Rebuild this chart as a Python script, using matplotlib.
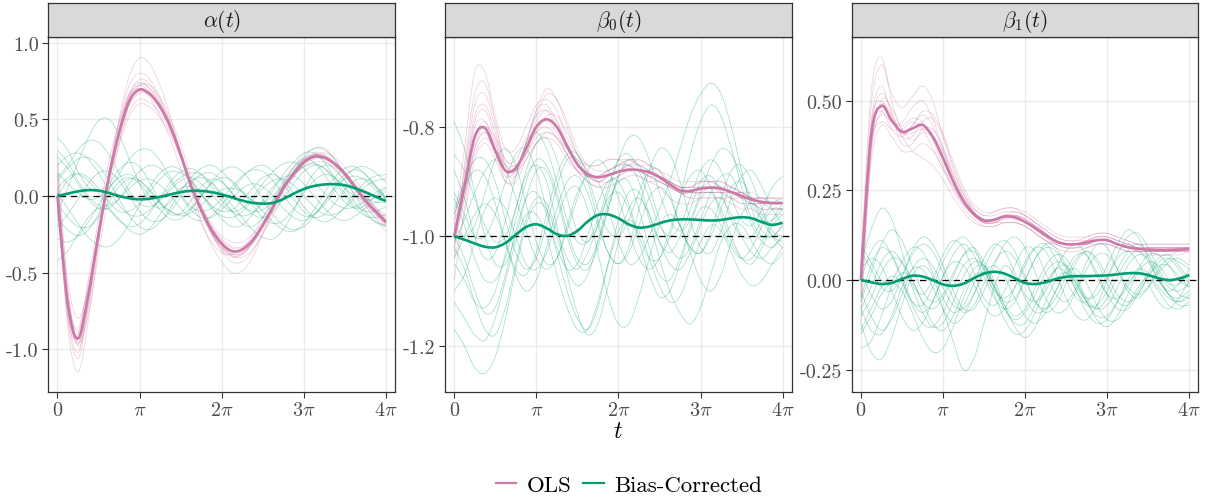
import numpy as np
import matplotlib.pyplot as plt
from matplotlib.lines import Line2D
from matplotlib.path import Path
from matplotlib.patches import PathPatch

plt.rcParams['mathtext.fontset'] = 'cm'
plt.rcParams['font.family'] = 'cmr10'
plt.rcParams['axes.unicode_minus'] = False

# evaluation grid: 0 .. 4*pi in steps of pi/8
t_steps = np.arange(33)
t = t_steps * np.pi / 8

# ---- alpha(t) -------------------------------------------------------------
alpha_ols_mean = [0.0, -0.70, -0.93, -0.65, -0.25, 0.12, 0.41, 0.62,
                  0.694, 0.665, 0.58, 0.45, 0.27, 0.07, -0.09, -0.22,
                  -0.31, -0.36, -0.35, -0.29, -0.19, -0.07, 0.05, 0.145,
                  0.22, 0.256, 0.25, 0.21, 0.145, 0.06, -0.03, -0.10,
                  -0.17]
alpha_bc_mean = [0.0, 0.015, 0.03, 0.038, 0.035, 0.02, 0.0, -0.015,
                 -0.022, -0.018, -0.005, 0.01, 0.025, 0.033, 0.033, 0.025,
                 0.01, -0.01, -0.03, -0.045, -0.05, -0.045, -0.02, 0.015,
                 0.045, 0.065, 0.075, 0.077, 0.07, 0.05, 0.025, -0.005,
                 -0.033]
alpha_ols_reps = [
    [0.05, -0.85, -1.15, -0.82, -0.32, 0.14, 0.50, 0.78, 0.90, 0.86, 0.72, 0.52, 0.28, 0.04, -0.16, -0.32,
     -0.43, -0.50, -0.49, -0.40, -0.25, -0.08, 0.07, 0.19, 0.27, 0.31, 0.30, 0.24, 0.15, 0.05, -0.06, -0.15, -0.23],
    [0.10, -0.55, -0.80, -0.60, -0.24, 0.09, 0.33, 0.52, 0.60, 0.58, 0.51, 0.40, 0.25, 0.08, -0.07, -0.18,
     -0.26, -0.30, -0.30, -0.25, -0.17, -0.06, 0.05, 0.13, 0.19, 0.22, 0.22, 0.19, 0.14, 0.07, -0.01, -0.07, -0.13],
    [-0.05, -0.62, -0.95, -0.78, -0.38, 0.02, 0.34, 0.60, 0.72, 0.72, 0.64, 0.51, 0.34, 0.13, -0.05, -0.20,
     -0.32, -0.39, -0.40, -0.35, -0.25, -0.13, 0.00, 0.12, 0.21, 0.27, 0.28, 0.25, 0.19, 0.11, 0.01, -0.08, -0.16],
    [0.20, -0.78, -0.90, -0.55, -0.15, 0.22, 0.48, 0.66, 0.70, 0.64, 0.52, 0.37, 0.18, -0.02, -0.18, -0.30,
     -0.37, -0.38, -0.34, -0.26, -0.14, -0.02, 0.10, 0.19, 0.25, 0.26, 0.23, 0.17, 0.10, 0.01, -0.07, -0.14, -0.20],
    [0.02, -0.75, -1.02, -0.70, -0.26, 0.15, 0.48, 0.72, 0.80, 0.76, 0.64, 0.48, 0.28, 0.07, -0.10, -0.25,
     -0.35, -0.40, -0.38, -0.31, -0.20, -0.07, 0.06, 0.16, 0.24, 0.28, 0.27, 0.22, 0.15, 0.06, -0.04, -0.12, -0.19],
    [-0.10, -0.70, -0.86, -0.58, -0.22, 0.10, 0.36, 0.55, 0.63, 0.61, 0.54, 0.42, 0.26, 0.07, -0.08, -0.20,
     -0.28, -0.33, -0.33, -0.28, -0.19, -0.08, 0.04, 0.13, 0.20, 0.24, 0.24, 0.20, 0.14, 0.06, -0.02, -0.09, -0.15],
    [0.15, -0.68, -0.97, -0.68, -0.27, 0.12, 0.43, 0.66, 0.76, 0.73, 0.62, 0.47, 0.29, 0.09, -0.09, -0.24,
     -0.36, -0.43, -0.43, -0.36, -0.24, -0.10, 0.04, 0.15, 0.23, 0.27, 0.26, 0.21, 0.13, 0.04, -0.05, -0.12, -0.18],
    [-0.02, -0.74, -0.92, -0.62, -0.23, 0.11, 0.39, 0.59, 0.67, 0.66, 0.60, 0.48, 0.30, 0.10, -0.07, -0.20,
     -0.29, -0.34, -0.34, -0.29, -0.20, -0.09, 0.03, 0.13, 0.21, 0.25, 0.25, 0.22, 0.16, 0.08, 0.00, -0.08, -0.14],
    [0.28, -0.60, -0.98, -0.74, -0.30, 0.10, 0.42, 0.64, 0.73, 0.70, 0.60, 0.46, 0.28, 0.08, -0.10, -0.24,
     -0.34, -0.39, -0.38, -0.31, -0.20, -0.07, 0.06, 0.16, 0.23, 0.27, 0.26, 0.21, 0.14, 0.05, -0.04, -0.11, -0.18],
    [-0.08, -0.80, -1.06, -0.72, -0.27, 0.13, 0.45, 0.67, 0.74, 0.70, 0.60, 0.46, 0.28, 0.08, -0.10, -0.24,
     -0.33, -0.38, -0.37, -0.31, -0.21, -0.09, 0.04, 0.15, 0.23, 0.27, 0.26, 0.22, 0.15, 0.06, -0.03, -0.11, -0.18],
    [0.05, -0.66, -0.88, -0.63, -0.25, 0.12, 0.40, 0.60, 0.68, 0.66, 0.58, 0.45, 0.27, 0.07, -0.09, -0.22,
     -0.31, -0.36, -0.35, -0.29, -0.19, -0.07, 0.05, 0.14, 0.21, 0.25, 0.25, 0.21, 0.14, 0.06, -0.03, -0.10, -0.16],
    [0.00, -0.72, -0.96, -0.67, -0.26, 0.13, 0.43, 0.65, 0.72, 0.68, 0.59, 0.45, 0.26, 0.06, -0.11, -0.24,
     -0.33, -0.38, -0.37, -0.30, -0.19, -0.06, 0.06, 0.15, 0.22, 0.26, 0.25, 0.20, 0.13, 0.05, -0.04, -0.11, -0.17],
]
alpha_bc_reps = [
    [0.38, 0.30, 0.16, 0.06, 0.03, 0.08, 0.17, 0.22, 0.19, 0.09, -0.04, -0.12, -0.11, -0.03, 0.06, 0.11,
     0.09, 0.02, -0.06, -0.12, -0.14, -0.10, -0.02, 0.08, 0.16, 0.20, 0.18, 0.12, 0.05, 0.00, -0.03, -0.01, 0.03],
    [-0.10, 0.05, 0.22, 0.38, 0.49, 0.50, 0.40, 0.24, 0.08, -0.04, -0.08, -0.04, 0.04, 0.10, 0.12, 0.08,
     0.00, -0.10, -0.18, -0.20, -0.14, -0.04, 0.08, 0.18, 0.24, 0.22, 0.14, 0.04, -0.04, -0.08, -0.06, 0.00, 0.05],
    [-0.42, -0.36, -0.25, -0.14, -0.08, -0.09, -0.15, -0.22, -0.25, -0.21, -0.12, -0.02, 0.05, 0.06, 0.01, -0.07,
     -0.15, -0.20, -0.19, -0.12, -0.03, 0.06, 0.12, 0.13, 0.08, 0.00, -0.08, -0.14, -0.16, -0.13, -0.08, -0.04, -0.02],
    [0.10, 0.18, 0.24, 0.25, 0.20, 0.10, -0.02, -0.13, -0.20, -0.22, -0.17, -0.08, 0.03, 0.12, 0.18, 0.20,
     0.16, 0.09, 0.02, -0.03, -0.04, 0.00, 0.07, 0.14, 0.19, 0.21, 0.18, 0.10, 0.00, -0.08, -0.13, -0.14, -0.12],
    [0.02, -0.08, -0.18, -0.27, -0.32, -0.33, -0.28, -0.18, -0.06, 0.06, 0.15, 0.19, 0.17, 0.10, 0.01, -0.08,
     -0.13, -0.14, -0.10, -0.03, 0.05, 0.10, 0.11, 0.07, 0.00, -0.07, -0.12, -0.12, -0.08, -0.01, 0.06, 0.10, 0.11],
    [0.20, 0.26, 0.28, 0.24, 0.15, 0.04, -0.06, -0.12, -0.13, -0.09, -0.02, 0.06, 0.12, 0.15, 0.14, 0.09,
     0.02, -0.06, -0.14, -0.22, -0.27, -0.28, -0.22, -0.10, 0.04, 0.15, 0.20, 0.18, 0.10, 0.00, -0.10, -0.17, -0.20],
    [-0.20, -0.12, -0.02, 0.08, 0.15, 0.16, 0.10, 0.00, -0.10, -0.16, -0.16, -0.10, -0.01, 0.08, 0.14, 0.15,
     0.10, 0.02, -0.06, -0.10, -0.09, -0.03, 0.06, 0.16, 0.25, 0.31, 0.31, 0.24, 0.14, 0.05, -0.01, -0.04, -0.04],
    [0.05, 0.12, 0.15, 0.12, 0.05, -0.04, -0.10, -0.10, -0.05, 0.03, 0.11, 0.16, 0.15, 0.10, 0.02, -0.06,
     -0.10, -0.09, -0.03, 0.05, 0.12, 0.14, 0.10, 0.02, -0.07, -0.14, -0.17, -0.14, -0.07, 0.02, 0.09, 0.13, 0.14],
    [-0.28, -0.30, -0.26, -0.17, -0.06, 0.05, 0.12, 0.14, 0.10, 0.03, -0.05, -0.10, -0.12, -0.08, 0.00, 0.09,
     0.16, 0.19, 0.16, 0.08, -0.02, -0.12, -0.19, -0.22, -0.20, -0.13, -0.04, 0.05, 0.11, 0.13, 0.10, 0.04, -0.02],
    [0.15, 0.08, 0.02, -0.02, -0.01, 0.05, 0.14, 0.24, 0.30, 0.30, 0.23, 0.12, 0.01, -0.07, -0.10, -0.08,
     -0.02, 0.06, 0.13, 0.17, 0.16, 0.10, 0.01, -0.08, -0.13, -0.12, -0.06, 0.03, 0.12, 0.18, 0.19, 0.15, 0.09],
    [-0.05, -0.14, -0.20, -0.20, -0.14, -0.04, 0.06, 0.11, 0.10, 0.04, -0.04, -0.10, -0.13, -0.11, -0.06, 0.00,
     0.04, 0.05, 0.03, -0.03, -0.10, -0.17, -0.22, -0.23, -0.18, -0.09, 0.02, 0.12, 0.18, 0.19, 0.14, 0.06, -0.02],
    [0.30, 0.22, 0.10, 0.00, -0.06, -0.06, -0.02, 0.05, 0.10, 0.11, 0.07, 0.00, -0.08, -0.14, -0.16, -0.13,
     -0.06, 0.03, 0.12, 0.18, 0.20, 0.16, 0.08, -0.02, -0.10, -0.14, -0.12, -0.05, 0.04, 0.10, 0.11, 0.06, -0.01],
    [0.12, 0.20, 0.30, 0.36, 0.35, 0.27, 0.15, 0.03, -0.05, -0.07, -0.03, 0.04, 0.10, 0.12, 0.08, 0.01,
     -0.06, -0.10, -0.08, -0.01, 0.08, 0.16, 0.21, 0.22, 0.18, 0.10, 0.02, -0.05, -0.08, -0.07, -0.03, 0.02, 0.06],
    [-0.15, -0.22, -0.26, -0.22, -0.12, 0.00, 0.09, 0.12, 0.08, 0.00, -0.09, -0.15, -0.15, -0.09, 0.00, 0.08,
     0.12, 0.10, 0.03, -0.06, -0.14, -0.18, -0.16, -0.08, 0.02, 0.10, 0.14, 0.12, 0.05, -0.04, -0.12, -0.17, -0.19],
    [0.00, 0.10, 0.14, 0.10, 0.02, -0.08, -0.16, -0.20, -0.18, -0.11, -0.01, 0.09, 0.16, 0.18, 0.14, 0.06,
     -0.03, -0.10, -0.13, -0.11, -0.05, 0.04, 0.14, 0.22, 0.28, 0.28, 0.22, 0.12, 0.02, -0.06, -0.10, -0.10, -0.07],
    [0.25, 0.18, 0.08, -0.02, -0.08, -0.08, -0.02, 0.08, 0.16, 0.20, 0.18, 0.10, 0.00, -0.09, -0.14, -0.14,
     -0.09, -0.02, 0.05, 0.08, 0.06, 0.00, -0.08, -0.14, -0.16, -0.12, -0.04, 0.06, 0.14, 0.17, 0.14, 0.07, -0.01],
]

# ---- beta_0(t) ------------------------------------------------------------
beta0_ols_mean = [-1.0, -0.91, -0.818, -0.802, -0.843, -0.88, -0.875, -0.84,
                  -0.80, -0.786, -0.80, -0.835, -0.868, -0.886, -0.892, -0.888,
                  -0.882, -0.878, -0.879, -0.883, -0.892, -0.905, -0.916, -0.917,
                  -0.913, -0.911, -0.913, -0.919, -0.926, -0.933, -0.937, -0.939,
                  -0.939]
beta0_bc_mean = [-1.0, -1.006, -1.013, -1.019, -1.02, -1.012, -0.997, -0.983,
                 -0.978, -0.985, -0.996, -0.999, -0.99, -0.973, -0.961, -0.96,
                 -0.967, -0.978, -0.984, -0.982, -0.976, -0.971, -0.969, -0.969,
                 -0.970, -0.971, -0.970, -0.967, -0.965, -0.967, -0.974, -0.979,
                 -0.975]
beta0_ols_reps = [
    [-0.98, -0.84, -0.70, -0.70, -0.78, -0.84, -0.84, -0.80, -0.76, -0.75, -0.77, -0.82, -0.85, -0.87, -0.87, -0.86,
     -0.86, -0.86, -0.87, -0.87, -0.88, -0.89, -0.90, -0.90, -0.90, -0.90, -0.90, -0.91, -0.92, -0.92, -0.93, -0.93, -0.93],
    [-1.04, -0.96, -0.86, -0.83, -0.86, -0.90, -0.90, -0.86, -0.83, -0.81, -0.82, -0.85, -0.88, -0.90, -0.91, -0.91,
     -0.90, -0.89, -0.89, -0.90, -0.91, -0.93, -0.94, -0.94, -0.93, -0.93, -0.93, -0.94, -0.95, -0.95, -0.96, -0.96, -0.96],
    [-1.00, -0.89, -0.78, -0.76, -0.81, -0.87, -0.88, -0.83, -0.77, -0.76, -0.79, -0.83, -0.86, -0.87, -0.87, -0.86,
     -0.86, -0.87, -0.88, -0.89, -0.89, -0.90, -0.91, -0.91, -0.91, -0.90, -0.90, -0.91, -0.92, -0.93, -0.93, -0.94, -0.94],
    [-0.97, -0.92, -0.83, -0.80, -0.82, -0.86, -0.87, -0.85, -0.81, -0.78, -0.78, -0.81, -0.85, -0.88, -0.90, -0.89,
     -0.88, -0.87, -0.86, -0.87, -0.88, -0.90, -0.91, -0.92, -0.92, -0.91, -0.91, -0.91, -0.92, -0.93, -0.94, -0.94, -0.94],
    [-1.08, -0.95, -0.84, -0.81, -0.85, -0.89, -0.88, -0.84, -0.81, -0.80, -0.82, -0.85, -0.88, -0.89, -0.90, -0.89,
     -0.88, -0.88, -0.89, -0.90, -0.90, -0.91, -0.92, -0.92, -0.92, -0.92, -0.92, -0.93, -0.93, -0.94, -0.94, -0.95, -0.95],
    [-0.99, -0.88, -0.76, -0.74, -0.80, -0.86, -0.86, -0.82, -0.78, -0.74, -0.75, -0.79, -0.84, -0.87, -0.88, -0.88,
     -0.87, -0.86, -0.86, -0.87, -0.89, -0.90, -0.91, -0.91, -0.90, -0.90, -0.91, -0.92, -0.93, -0.93, -0.93, -0.93, -0.94],
    [-1.02, -0.93, -0.85, -0.82, -0.84, -0.87, -0.87, -0.85, -0.82, -0.81, -0.82, -0.84, -0.87, -0.89, -0.89, -0.88,
     -0.87, -0.87, -0.88, -0.89, -0.90, -0.91, -0.92, -0.93, -0.93, -0.93, -0.93, -0.93, -0.94, -0.94, -0.95, -0.95, -0.95],
    [-1.00, -0.90, -0.80, -0.79, -0.84, -0.90, -0.89, -0.83, -0.78, -0.77, -0.80, -0.84, -0.87, -0.89, -0.90, -0.90,
     -0.89, -0.88, -0.88, -0.88, -0.89, -0.90, -0.92, -0.92, -0.91, -0.91, -0.92, -0.92, -0.93, -0.93, -0.94, -0.94, -0.94],
    [-1.03, -0.87, -0.74, -0.72, -0.79, -0.87, -0.88, -0.84, -0.79, -0.77, -0.79, -0.83, -0.87, -0.89, -0.89, -0.88,
     -0.87, -0.86, -0.87, -0.88, -0.89, -0.90, -0.91, -0.91, -0.91, -0.91, -0.91, -0.92, -0.92, -0.93, -0.93, -0.94, -0.94],
    [-0.96, -0.90, -0.82, -0.79, -0.83, -0.88, -0.88, -0.83, -0.77, -0.73, -0.75, -0.80, -0.85, -0.88, -0.89, -0.88,
     -0.87, -0.87, -0.87, -0.88, -0.89, -0.90, -0.91, -0.91, -0.90, -0.90, -0.91, -0.92, -0.92, -0.93, -0.93, -0.93, -0.93],
    [-1.01, -0.93, -0.84, -0.81, -0.83, -0.87, -0.88, -0.86, -0.83, -0.82, -0.83, -0.86, -0.88, -0.89, -0.90, -0.89,
     -0.88, -0.88, -0.88, -0.89, -0.90, -0.91, -0.92, -0.92, -0.92, -0.92, -0.92, -0.92, -0.93, -0.94, -0.94, -0.94, -0.94],
    [-1.00, -0.90, -0.79, -0.77, -0.82, -0.88, -0.89, -0.85, -0.80, -0.79, -0.81, -0.85, -0.88, -0.90, -0.91, -0.90,
     -0.89, -0.88, -0.88, -0.89, -0.90, -0.91, -0.92, -0.93, -0.92, -0.92, -0.92, -0.93, -0.94, -0.94, -0.95, -0.95, -0.95],
]
beta0_bc_reps = [
    [-0.79, -0.84, -0.92, -1.00, -1.05, -1.05, -1.00, -0.93, -0.88, -0.88, -0.93, -1.00, -1.05, -1.06, -1.02, -0.95,
     -0.89, -0.87, -0.90, -0.96, -1.01, -1.03, -1.00, -0.95, -0.90, -0.89, -0.92, -0.97, -1.00, -1.00, -0.97, -0.94, -0.93],
    [-1.17, -1.20, -1.24, -1.25, -1.22, -1.15, -1.06, -0.98, -0.94, -0.95, -1.00, -1.06, -1.09, -1.07, -1.01, -0.94,
     -0.90, -0.90, -0.95, -1.02, -1.07, -1.08, -1.04, -0.98, -0.93, -0.92, -0.95, -1.00, -1.04, -1.05, -1.02, -0.98, -0.96],
    [-0.95, -0.90, -0.86, -0.86, -0.90, -0.97, -1.03, -1.06, -1.04, -0.98, -0.91, -0.86, -0.86, -0.90, -0.97, -1.03,
     -1.05, -1.02, -0.95, -0.88, -0.84, -0.85, -0.90, -0.97, -1.02, -1.03, -0.99, -0.93, -0.89, -0.88, -0.91, -0.95, -0.98],
    [-1.05, -1.08, -1.12, -1.13, -1.10, -1.03, -0.95, -0.89, -0.87, -0.90, -0.98, -1.07, -1.14, -1.18, -1.16, -1.09,
     -1.01, -0.95, -0.93, -0.96, -1.01, -1.05, -1.06, -1.03, -0.98, -0.94, -0.93, -0.96, -1.00, -1.03, -1.04, -1.02, -1.00],
    [-0.98, -1.00, -0.98, -0.92, -0.86, -0.84, -0.87, -0.94, -1.01, -1.05, -1.04, -0.98, -0.92, -0.89, -0.90, -0.95,
     -1.01, -1.05, -1.04, -1.00, -0.95, -0.90, -0.84, -0.78, -0.74, -0.72, -0.74, -0.80, -0.88, -0.95, -0.99, -1.00, -0.98],
    [-1.02, -1.06, -1.12, -1.17, -1.18, -1.13, -1.05, -0.97, -0.93, -0.94, -0.99, -1.04, -1.06, -1.03, -0.98, -0.93,
     -0.92, -0.95, -1.01, -1.07, -1.11, -1.10, -1.05, -0.99, -0.95, -0.95, -0.98, -1.02, -1.04, -1.02, -0.98, -0.95, -0.95],
    [-0.92, -0.96, -1.00, -1.00, -0.96, -0.90, -0.85, -0.84, -0.88, -0.95, -1.02, -1.06, -1.05, -1.00, -0.94, -0.90,
     -0.90, -0.94, -1.00, -1.04, -1.04, -1.00, -0.93, -0.85, -0.79, -0.76, -0.78, -0.84, -0.91, -0.97, -1.00, -1.00, -0.98],
    [-1.10, -1.07, -1.01, -0.95, -0.93, -0.95, -1.00, -1.05, -1.06, -1.03, -0.97, -0.92, -0.91, -0.95, -1.03, -1.11,
     -1.16, -1.16, -1.11, -1.04, -0.98, -0.96, -0.98, -1.03, -1.08, -1.10, -1.07, -1.01, -0.96, -0.94, -0.96, -1.00, -1.02],
    [-0.88, -0.93, -1.00, -1.04, -1.03, -0.97, -0.89, -0.83, -0.81, -0.84, -0.90, -0.97, -1.01, -1.01, -0.97, -0.91,
     -0.86, -0.85, -0.88, -0.93, -0.98, -1.00, -0.98, -0.93, -0.88, -0.86, -0.88, -0.93, -0.97, -0.98, -0.95, -0.91, -0.89],
    [-1.00, -1.04, -1.10, -1.14, -1.13, -1.07, -0.99, -0.93, -0.92, -0.96, -1.03, -1.10, -1.15, -1.17, -1.13, -1.05,
     -0.97, -0.92, -0.92, -0.97, -1.04, -1.10, -1.14, -1.16, -1.13, -1.07, -1.01, -0.98, -0.98, -1.01, -1.04, -1.05, -1.03],
    [-0.96, -0.91, -0.88, -0.89, -0.94, -1.01, -1.06, -1.07, -1.03, -0.96, -0.89, -0.85, -0.85, -0.89, -0.95, -0.99,
     -1.00, -0.97, -0.92, -0.88, -0.88, -0.92, -0.98, -1.02, -1.03, -0.99, -0.93, -0.88, -0.87, -0.90, -0.95, -0.99, -1.00],
    [-1.04, -1.00, -0.96, -0.94, -0.96, -1.01, -1.07, -1.10, -1.08, -1.02, -0.95, -0.90, -0.89, -0.92, -0.98, -1.03,
     -1.05, -1.03, -0.98, -0.93, -0.91, -0.93, -0.98, -1.02, -1.03, -1.00, -0.95, -0.91, -0.90, -0.93, -0.97, -1.00, -1.01],
    [-0.85, -0.88, -0.93, -0.98, -1.01, -1.00, -0.95, -0.88, -0.83, -0.82, -0.86, -0.93, -0.99, -1.01, -0.98, -0.92,
     -0.86, -0.82, -0.82, -0.86, -0.92, -0.97, -0.99, -0.97, -0.92, -0.87, -0.84, -0.85, -0.89, -0.94, -0.97, -0.97, -0.95],
    [-1.12, -1.15, -1.18, -1.19, -1.15, -1.08, -1.01, -0.96, -0.96, -1.00, -1.07, -1.13, -1.17, -1.17, -1.12, -1.05,
     -0.99, -0.97, -0.99, -1.04, -1.09, -1.12, -1.11, -1.06, -1.01, -0.98, -0.99, -1.03, -1.07, -1.09, -1.08, -1.05, -1.02],
    [-0.93, -0.98, -1.04, -1.08, -1.08, -1.04, -0.97, -0.90, -0.86, -0.87, -0.92, -0.99, -1.04, -1.05, -1.01, -0.95,
     -0.89, -0.86, -0.87, -0.91, -0.97, -1.02, -1.04, -1.02, -0.97, -0.92, -0.89, -0.89, -0.93, -0.98, -1.01, -1.02, -1.00],
    [-1.01, -0.97, -0.92, -0.88, -0.86, -0.88, -0.93, -0.99, -1.04, -1.06, -1.04, -0.99, -0.93, -0.88, -0.86, -0.88,
     -0.93, -0.99, -1.04, -1.06, -1.04, -0.99, -0.93, -0.89, -0.88, -0.91, -0.96, -1.01, -1.04, -1.04, -1.01, -0.97, -0.94],
]

# ---- beta_1(t) ------------------------------------------------------------
beta1_ols_mean = [0.0, 0.40, 0.485, 0.445, 0.413, 0.422, 0.432, 0.40,
                  0.34, 0.275, 0.22, 0.185, 0.166, 0.168, 0.177, 0.175,
                  0.162, 0.145, 0.125, 0.108, 0.10, 0.100, 0.105, 0.111,
                  0.111, 0.10, 0.092, 0.087, 0.085, 0.084, 0.084, 0.085,
                  0.086]
beta1_bc_mean = [0.0, -0.006, -0.011, -0.008, 0.003, 0.012, 0.010, 0.0,
                 -0.012, -0.016, -0.010, 0.005, 0.018, 0.023, 0.018, 0.005,
                 -0.008, -0.011, -0.006, 0.003, 0.009, 0.011, 0.011, 0.012,
                 0.013, 0.016, 0.019, 0.019, 0.014, 0.005, 0.0, 0.004,
                 0.014]
beta1_ols_reps = [
    [0.02, 0.48, 0.60, 0.52, 0.48, 0.51, 0.54, 0.50, 0.40, 0.31, 0.24, 0.20, 0.18, 0.18, 0.19, 0.19,
     0.18, 0.16, 0.14, 0.12, 0.11, 0.11, 0.11, 0.12, 0.12, 0.11, 0.10, 0.10, 0.09, 0.09, 0.09, 0.09, 0.09],
    [-0.05, 0.33, 0.43, 0.40, 0.36, 0.36, 0.38, 0.36, 0.31, 0.25, 0.20, 0.17, 0.15, 0.15, 0.16, 0.16,
     0.15, 0.13, 0.11, 0.10, 0.09, 0.09, 0.09, 0.10, 0.10, 0.09, 0.08, 0.08, 0.08, 0.07, 0.07, 0.08, 0.08],
    [0.00, 0.42, 0.52, 0.47, 0.40, 0.40, 0.44, 0.45, 0.40, 0.32, 0.25, 0.20, 0.18, 0.19, 0.20, 0.20,
     0.18, 0.16, 0.14, 0.12, 0.11, 0.11, 0.12, 0.13, 0.13, 0.12, 0.11, 0.10, 0.10, 0.10, 0.10, 0.10, 0.10],
    [0.04, 0.38, 0.46, 0.44, 0.43, 0.45, 0.44, 0.39, 0.32, 0.26, 0.21, 0.18, 0.16, 0.16, 0.17, 0.17,
     0.16, 0.14, 0.12, 0.10, 0.09, 0.09, 0.10, 0.11, 0.11, 0.10, 0.09, 0.08, 0.08, 0.08, 0.08, 0.08, 0.08],
    [-0.12, 0.36, 0.50, 0.48, 0.42, 0.39, 0.41, 0.40, 0.36, 0.29, 0.23, 0.19, 0.17, 0.17, 0.18, 0.18,
     0.17, 0.15, 0.13, 0.11, 0.10, 0.10, 0.10, 0.11, 0.11, 0.10, 0.09, 0.09, 0.08, 0.08, 0.08, 0.09, 0.09],
    [0.03, 0.44, 0.54, 0.46, 0.38, 0.38, 0.42, 0.42, 0.37, 0.30, 0.24, 0.19, 0.16, 0.16, 0.18, 0.19,
     0.18, 0.16, 0.13, 0.11, 0.10, 0.10, 0.11, 0.12, 0.12, 0.11, 0.10, 0.09, 0.09, 0.09, 0.09, 0.09, 0.09],
    [0.00, 0.40, 0.47, 0.42, 0.40, 0.43, 0.46, 0.43, 0.36, 0.28, 0.22, 0.18, 0.16, 0.16, 0.17, 0.18,
     0.17, 0.15, 0.13, 0.11, 0.10, 0.10, 0.10, 0.11, 0.11, 0.10, 0.10, 0.09, 0.09, 0.09, 0.09, 0.09, 0.09],
    [-0.03, 0.37, 0.44, 0.42, 0.42, 0.44, 0.42, 0.37, 0.31, 0.26, 0.21, 0.18, 0.16, 0.16, 0.16, 0.16,
     0.15, 0.13, 0.11, 0.10, 0.09, 0.09, 0.10, 0.10, 0.10, 0.09, 0.09, 0.08, 0.08, 0.08, 0.08, 0.08, 0.08],
    [0.05, 0.52, 0.62, 0.50, 0.42, 0.43, 0.47, 0.46, 0.41, 0.33, 0.26, 0.21, 0.19, 0.19, 0.20, 0.20,
     0.19, 0.17, 0.15, 0.13, 0.12, 0.12, 0.12, 0.13, 0.13, 0.12, 0.11, 0.10, 0.10, 0.10, 0.10, 0.10, 0.10],
    [-0.08, 0.35, 0.47, 0.45, 0.40, 0.36, 0.34, 0.32, 0.28, 0.23, 0.19, 0.16, 0.15, 0.15, 0.16, 0.16,
     0.15, 0.13, 0.11, 0.09, 0.08, 0.08, 0.09, 0.10, 0.10, 0.09, 0.08, 0.08, 0.07, 0.07, 0.07, 0.07, 0.08],
    [0.01, 0.43, 0.50, 0.44, 0.44, 0.48, 0.50, 0.45, 0.37, 0.29, 0.23, 0.19, 0.17, 0.17, 0.18, 0.18,
     0.17, 0.15, 0.13, 0.11, 0.10, 0.10, 0.11, 0.12, 0.12, 0.11, 0.10, 0.09, 0.09, 0.09, 0.09, 0.09, 0.09],
    [-0.02, 0.39, 0.49, 0.46, 0.41, 0.41, 0.42, 0.40, 0.35, 0.28, 0.22, 0.18, 0.16, 0.17, 0.18, 0.17,
     0.16, 0.14, 0.12, 0.11, 0.10, 0.10, 0.10, 0.11, 0.11, 0.10, 0.09, 0.09, 0.08, 0.08, 0.08, 0.08, 0.09],
]
beta1_bc_reps = [
    [0.05, 0.14, 0.20, 0.17, 0.08, -0.01, -0.04, 0.00, 0.07, 0.11, 0.09, 0.02, -0.05, -0.07, -0.03, 0.04,
     0.09, 0.08, 0.02, -0.04, -0.06, -0.02, 0.05, 0.10, 0.09, 0.03, -0.03, -0.05, -0.02, 0.03, 0.06, 0.05, 0.03],
    [-0.19, -0.17, -0.10, -0.02, 0.02, 0.00, -0.06, -0.12, -0.14, -0.10, -0.03, 0.03, 0.04, 0.00, -0.07, -0.13,
     -0.16, -0.13, -0.06, 0.00, 0.02, -0.01, -0.06, -0.10, -0.10, -0.06, -0.01, 0.02, 0.01, -0.03, -0.07, -0.08, -0.06],
    [-0.05, 0.04, 0.09, 0.07, 0.01, -0.06, -0.09, -0.06, 0.01, 0.07, 0.10, 0.07, 0.01, -0.05, -0.08, -0.06,
     0.00, 0.06, 0.09, 0.08, 0.03, -0.03, -0.07, -0.07, -0.03, 0.03, 0.08, 0.10, 0.07, 0.02, -0.02, -0.03, -0.01],
    [-0.12, -0.20, -0.22, -0.16, -0.07, 0.01, 0.04, 0.01, -0.08, -0.17, -0.25, -0.22, -0.12, -0.02, 0.04, 0.01,
     -0.05, -0.09, -0.08, -0.03, 0.03, 0.07, 0.07, 0.02, -0.04, -0.08, -0.08, -0.04, 0.01, 0.04, 0.04, 0.01, -0.02],
    [0.02, -0.04, -0.08, -0.06, 0.01, 0.08, 0.12, 0.10, 0.04, -0.03, -0.08, -0.08, -0.03, 0.04, 0.10, 0.12,
     0.09, 0.02, -0.05, -0.09, -0.08, -0.03, 0.03, 0.07, 0.07, 0.03, -0.02, -0.04, -0.02, 0.02, 0.05, 0.06, 0.04],
    [-0.08, -0.02, 0.05, 0.08, 0.05, -0.02, -0.09, -0.13, -0.12, -0.06, 0.01, 0.05, 0.04, -0.01, -0.07, -0.10,
     -0.08, -0.02, 0.04, 0.07, 0.06, 0.01, -0.05, -0.08, -0.07, -0.02, 0.04, 0.07, 0.06, 0.01, -0.04, -0.06, -0.05],
    [0.00, 0.08, 0.11, 0.07, 0.00, -0.06, -0.07, -0.02, 0.05, 0.10, 0.12, 0.09, 0.03, -0.03, -0.05, -0.02,
     0.04, 0.09, 0.10, 0.06, 0.00, -0.05, -0.06, -0.02, 0.04, 0.10, 0.14, 0.12, 0.06, 0.00, -0.03, -0.01, 0.03],
    [-0.15, -0.10, -0.04, -0.01, -0.03, -0.09, -0.16, -0.20, -0.19, -0.13, -0.05, 0.01, 0.02, -0.02, -0.08, -0.12,
     -0.12, -0.07, -0.01, 0.03, 0.02, -0.03, -0.09, -0.12, -0.11, -0.06, 0.00, 0.03, 0.02, -0.02, -0.05, -0.06, -0.04],
    [0.08, 0.03, -0.02, -0.03, 0.01, 0.07, 0.10, 0.08, 0.02, -0.05, -0.09, -0.07, -0.01, 0.05, 0.08, 0.06,
     0.00, -0.06, -0.08, -0.05, 0.01, 0.06, 0.08, 0.05, -0.01, -0.06, -0.07, -0.03, 0.02, 0.06, 0.07, 0.04, 0.00],
    [-0.03, -0.10, -0.14, -0.11, -0.04, 0.03, 0.06, 0.04, -0.02, -0.07, -0.08, -0.04, 0.03, 0.09, 0.11, 0.08,
     0.01, -0.06, -0.09, -0.07, -0.01, 0.05, 0.08, 0.06, 0.01, -0.04, -0.06, -0.04, 0.01, 0.05, 0.06, 0.03, -0.01],
    [-0.10, -0.05, 0.02, 0.06, 0.05, 0.00, -0.06, -0.08, -0.05, 0.01, 0.07, 0.09, 0.05, -0.02, -0.08, -0.11,
     -0.09, -0.04, 0.02, 0.05, 0.04, -0.01, -0.06, -0.08, -0.05, 0.01, 0.06, 0.08, 0.05, 0.00, -0.04, -0.05, -0.03],
    [0.03, 0.06, 0.04, -0.03, -0.10, -0.14, -0.12, -0.06, 0.01, 0.05, 0.04, -0.01, -0.07, -0.10, -0.08, -0.02,
     0.05, 0.09, 0.08, 0.02, -0.05, -0.10, -0.11, -0.07, 0.00, 0.06, 0.08, 0.05, -0.01, -0.06, -0.08, -0.05, 0.00],
    [-0.06, 0.02, 0.10, 0.14, 0.11, 0.04, -0.03, -0.06, -0.04, 0.02, 0.07, 0.08, 0.04, -0.02, -0.06, -0.05,
     0.00, 0.06, 0.10, 0.09, 0.04, -0.02, -0.05, -0.04, 0.01, 0.07, 0.12, 0.13, 0.09, 0.03, -0.01, -0.01, 0.02],
    [-0.08, -0.14, -0.15, -0.10, -0.02, 0.03, 0.03, -0.02, -0.08, -0.12, -0.10, -0.04, 0.02, 0.04, 0.01, -0.05,
     -0.10, -0.12, -0.09, -0.03, 0.02, 0.03, -0.01, -0.07, -0.11, -0.11, -0.07, -0.02, 0.01, 0.00, -0.04, -0.07, -0.07],
    [0.10, 0.05, 0.00, 0.00, 0.05, 0.09, 0.08, 0.02, -0.05, -0.09, -0.07, -0.01, 0.06, 0.10, 0.08, 0.02,
     -0.04, -0.06, -0.03, 0.03, 0.08, 0.10, 0.07, 0.01, -0.04, -0.05, -0.02, 0.03, 0.07, 0.07, 0.04, 0.00, -0.02],
    [-0.14, -0.08, -0.02, 0.01, -0.01, -0.07, -0.12, -0.13, -0.09, -0.02, 0.04, 0.06, 0.03, -0.04, -0.11, -0.15,
     -0.14, -0.09, -0.02, 0.03, 0.04, 0.00, -0.06, -0.11, -0.13, -0.10, -0.04, 0.02, 0.05, 0.04, 0.00, -0.04, -0.05],
]

titles = [r'$\alpha(t)$', r'$\beta_0(t)$', r'$\beta_1(t)$']
true_values = [0.0, -1.0, 0.0]
y_ticks = [[1.0, 0.5, 0.0, -0.5, -1.0], [-0.8, -1.0, -1.2], [0.50, 0.25, 0.00, -0.25]]
y_ticklabels = [['1.0', '0.5', '0.0', '-0.5', '-1.0'], ['-0.8', '-1.0', '-1.2'],
                ['0.50', '0.25', '0.00', '-0.25']]
y_limits = [(-1.277, 1.039), (-1.284, -0.635), (-0.311, 0.678)]
x_ticks = [0, np.pi, 2 * np.pi, 3 * np.pi, 4 * np.pi]
x_ticklabels = [r'$0$', r'$\pi$', r'$2\pi$', r'$3\pi$', r'$4\pi$']

ols_means = [alpha_ols_mean, beta0_ols_mean, beta1_ols_mean]
bc_means = [alpha_bc_mean, beta0_bc_mean, beta1_bc_mean]
ols_reps = [alpha_ols_reps, beta0_ols_reps, beta1_ols_reps]
bc_reps = [alpha_bc_reps, beta0_bc_reps, beta1_bc_reps]

OLS_COL = '#CC79A7'
BC_COL = '#009E73'


def smooth_line(ax, x, y, **kw):
    """Draw a curve through (x, y) as a chain of cubic Bezier segments."""
    pts = np.column_stack([x, y])
    ext = np.vstack([pts[0], pts, pts[-1]])
    verts = [pts[0]]
    codes = [Path.MOVETO]
    for k in range(len(pts) - 1):
        p0, p1, p2, p3 = ext[k], ext[k + 1], ext[k + 2], ext[k + 3]
        verts += [p1 + (p2 - p0) / 6, p2 - (p3 - p1) / 6, p2]
        codes += [Path.CURVE4] * 3
    patch = PathPatch(Path(verts, codes), fill=False, capstyle='butt',
                      joinstyle='round', **kw)
    ax.add_patch(patch)


fig = plt.figure(figsize=(12.07, 5.02), dpi=100)
lefts = [0.0400, 0.3687, 0.7056]
width, bottom, height = 0.2873, 0.2177, 0.7072
strip_h = 0.0671

for i in range(3):
    ax = fig.add_axes([lefts[i], bottom, width, height])
    for rep in ols_reps[i]:
        smooth_line(ax, t, rep, edgecolor=OLS_COL, lw=0.6, alpha=0.33, zorder=2)
    for rep in bc_reps[i]:
        smooth_line(ax, t, rep, edgecolor=BC_COL, lw=0.6, alpha=0.33, zorder=2)
    ax.axhline(true_values[i], color='black', lw=0.9, ls=(0, (5, 4)), zorder=3)
    smooth_line(ax, t, ols_means[i], edgecolor=OLS_COL, lw=1.9, zorder=4)
    smooth_line(ax, t, bc_means[i], edgecolor=BC_COL, lw=1.9, zorder=5)

    ax.set_xlim(-0.35, 4 * np.pi + 0.35)
    ax.set_ylim(*y_limits[i])
    ax.set_xticks(x_ticks, x_ticklabels)
    ax.set_yticks(y_ticks[i], y_ticklabels[i])
    ax.tick_params(labelsize=14.5, colors='#333333', labelcolor='#4D4D4D',
                   length=4, width=0.8, pad=3)
    ax.grid(True, color='#EBEBEB', lw=1.0, zorder=0)
    ax.set_axisbelow(True)
    for sp in ax.spines.values():
        sp.set_color('#333333')
        sp.set_linewidth(0.9)

    # facet strip
    sax = fig.add_axes([lefts[i], bottom + height, width, strip_h])
    sax.set_facecolor('#D9D9D9')
    sax.set_xticks([])
    sax.set_yticks([])
    for sp in sax.spines.values():
        sp.set_color('#333333')
        sp.set_linewidth(0.9)
    sax.text(0.5, 0.47, titles[i], transform=sax.transAxes, ha='center',
             va='center', fontsize=15.5, color='#1A1A1A')

    if i == 1:
        ax.set_xlabel(r'$t$', fontsize=17, labelpad=0)

handles = [Line2D([], [], color=OLS_COL, lw=1.6),
           Line2D([], [], color=BC_COL, lw=1.6)]
fig.legend(handles, ['OLS', 'Bias-Corrected'], loc='center',
           bbox_to_anchor=(0.521, 0.031), ncol=2, frameon=False, fontsize=16.5,
           handlelength=0.9, handletextpad=0.45, columnspacing=0.5)

fig.savefig('out.png', dpi=100)
